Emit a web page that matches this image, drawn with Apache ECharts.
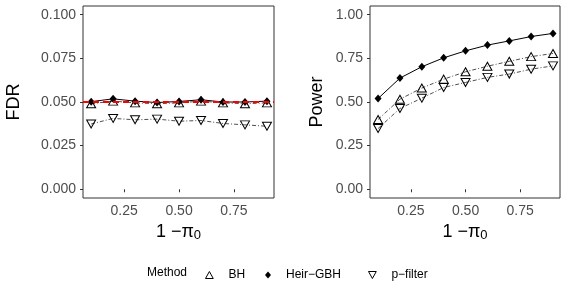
<!DOCTYPE html>
<html>
<head>
<meta charset="utf-8">
<script src="https://cdn.jsdelivr.net/npm/echarts@6/dist/echarts.min.js"></script>
<style>
html,body{margin:0;padding:0;background:#fff;}
#c{width:581px;height:291px;}
</style>
</head>
<body>
<div id="c"></div>
<script>
// ---- data ----
const xVals = [0.1, 0.2, 0.3, 0.4, 0.5, 0.6, 0.7, 0.8, 0.9];
const fdrBH = [0.0490, 0.0505, 0.0495, 0.0490, 0.0495, 0.0505, 0.0495, 0.0490, 0.0495];
const fdrHeir = [0.0502, 0.0518, 0.0505, 0.0497, 0.0503, 0.0513, 0.0500, 0.0500, 0.0505];
const fdrPF = [0.0374, 0.0406, 0.0398, 0.0402, 0.0390, 0.0394, 0.0377, 0.0369, 0.0361];
const powBH = [0.400, 0.516, 0.580, 0.631, 0.673, 0.705, 0.733, 0.760, 0.778];
const powHeir = [0.520, 0.637, 0.702, 0.753, 0.793, 0.826, 0.850, 0.875, 0.893];
const powPF = [0.348, 0.463, 0.522, 0.583, 0.612, 0.641, 0.660, 0.688, 0.707];
const xTicks = [0.25, 0.50, 0.75];
const fdrTicks = [0.000, 0.025, 0.050, 0.075, 0.100];
const powTicks = [0.00, 0.25, 0.50, 0.75, 1.00];
const fdrTarget = 0.05;
const methods = ['BH', 'Heir−GBH', 'p−filter'];

const FONT = '"Liberation Sans", Arial, sans-serif';
const pair = (ys) => xVals.map((x, i) => [x, ys[i]]);

function xAxis(gi) {
  return {
    type: 'value', gridIndex: gi, min: 0.063, max: 0.932,
    name: '{a|1 −π}{b|0}', nameLocation: 'middle', nameGap: 23,
    nameTextStyle: { rich: {
      a: { fontFamily: FONT, fontSize: 18, color: '#000' },
      b: { fontFamily: FONT, fontSize: 13, color: '#000', padding: [8, 0, 0, 0] }
    } },
    axisLine: { show: false },
    axisTick: { show: true, length: 3, customValues: xTicks, lineStyle: { color: '#333', width: 1 } },
    axisLabel: { customValues: xTicks, formatter: v => v.toFixed(2), fontFamily: FONT, fontSize: 14, color: '#4d4d4d', margin: 6 },
    splitLine: { show: false }
  };
}
function yAxis(gi, name, ticks, min, max, dec, gap) {
  return {
    type: 'value', gridIndex: gi, min: min, max: max,
    name: name, nameLocation: 'middle', nameGap: gap, nameRotate: 90,
    nameTextStyle: { fontFamily: FONT, fontSize: 18, color: '#000' },
    axisLine: { show: false },
    axisTick: { show: true, length: 3, customValues: ticks, lineStyle: { color: '#333', width: 1 } },
    axisLabel: { customValues: ticks, formatter: v => v.toFixed(dec), fontFamily: FONT, fontSize: 14, color: '#4d4d4d', margin: 7 },
    splitLine: { show: false }
  };
}

const dashDot = [4, 2, 1, 2];
function series(name, data, gi, z) {
  const base = {
    name: name, type: 'line', xAxisIndex: gi, yAxisIndex: gi, data: pair(data),
    animation: false, z: z, showAllSymbol: true
  };
  if (name === 'Heir−GBH') {
    base.symbol = 'diamond'; base.symbolSize = [7, 8];
    base.itemStyle = { color: '#000', borderWidth: 0 };
    base.lineStyle = { color: '#000', width: 1, type: 'solid' };
  } else {
    base.symbol = 'triangle'; base.symbolSize = [9, 8];
    if (name === 'p−filter') base.symbolRotate = 180;
    base.itemStyle = { color: 'rgba(255,255,255,0)', borderColor: '#000', borderWidth: 1 };
    base.lineStyle = { color: '#222', width: 0.8, type: dashDot };
  }
  return base;
}

const chart = echarts.init(document.getElementById('c'), null, { renderer: 'canvas' });
const legendCommon = {
  orient: 'horizontal', top: 264, itemWidth: 8, itemHeight: 7,
  textStyle: { fontFamily: FONT, fontSize: 12, color: '#000', padding: [0, 0, 0, 10] },
  itemStyle: { borderWidth: 1, borderColor: '#000' },
  selectedMode: false
};
chart.setOption({
  animation: false,
  backgroundColor: '#fff',
  title: { text: 'Method', left: 142, top: 262, textStyle: { fontFamily: FONT, fontSize: 12, fontWeight: 'normal', color: '#000' } },
  legend: [
    Object.assign({}, legendCommon, { left: 200, data: [{ name: methods[0], icon: 'path://M5,0L10,9L0,9Z' }] }),
    Object.assign({}, legendCommon, { left: 260, itemWidth: 6, itemHeight: 7, itemStyle: { borderWidth: 0 }, data: [{ name: methods[1], icon: 'diamond' }] }),
    Object.assign({}, legendCommon, { left: 363, data: [{ name: methods[2], icon: 'path://M0,0L10,0L5,9Z' }] })
  ],
  grid: [
    { left: 83, top: 6, width: 191, height: 192, show: true, borderColor: '#333', borderWidth: 1, backgroundColor: '#fff' },
    { left: 370, top: 6, width: 190, height: 192, show: true, borderColor: '#333', borderWidth: 1, backgroundColor: '#fff' }
  ],
  xAxis: [xAxis(0), xAxis(1)],
  yAxis: [
    yAxis(0, 'FDR', fdrTicks, -0.005, 0.105, 3, 60),
    yAxis(1, 'Power', powTicks, -0.05, 1.05, 2, 44)
  ],
  series: [
    series(methods[0], fdrBH, 0, 2),
    series(methods[1], fdrHeir, 0, 3),
    Object.assign(series(methods[2], fdrPF, 0, 4), {
      markLine: { silent: true, symbol: 'none', label: { show: false },
        lineStyle: { color: '#ff0000', type: [6, 4], width: 2 },
        data: [{ yAxis: fdrTarget }], z: 10 }
    }),
    series(methods[0], powBH, 1, 2),
    series(methods[1], powHeir, 1, 3),
    series(methods[2], powPF, 1, 4)
  ]
});
</script>
</body>
</html>
